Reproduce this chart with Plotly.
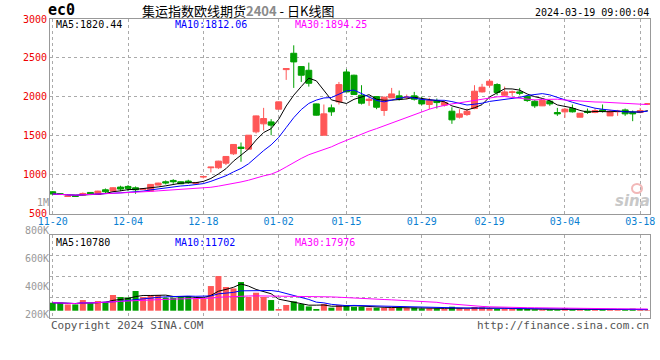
import plotly.graph_objects as go
import pandas as pd

# ---------------- data ----------------
dates = [
    "2023-11-20", "2023-11-21", "2023-11-22", "2023-11-23", "2023-11-24", "2023-11-27", "2023-11-28", "2023-11-29", "2023-11-30", "2023-12-01",
    "2023-12-04", "2023-12-05", "2023-12-06", "2023-12-07", "2023-12-08", "2023-12-11", "2023-12-12", "2023-12-13", "2023-12-14", "2023-12-15",
    "2023-12-18", "2023-12-19", "2023-12-20", "2023-12-21", "2023-12-22", "2023-12-25", "2023-12-26", "2023-12-27", "2023-12-28", "2023-12-29",
    "2024-01-02", "2024-01-03", "2024-01-04", "2024-01-05", "2024-01-08", "2024-01-09", "2024-01-10", "2024-01-11", "2024-01-12",
    "2024-01-15", "2024-01-16", "2024-01-17", "2024-01-18", "2024-01-19", "2024-01-22", "2024-01-23", "2024-01-24", "2024-01-25", "2024-01-26",
    "2024-01-29", "2024-01-30", "2024-01-31", "2024-02-01", "2024-02-02", "2024-02-05", "2024-02-06", "2024-02-07", "2024-02-08",
    "2024-02-19", "2024-02-20", "2024-02-21", "2024-02-22", "2024-02-23", "2024-02-26", "2024-02-27", "2024-02-28", "2024-02-29", "2024-03-01",
    "2024-03-04", "2024-03-05", "2024-03-06", "2024-03-07", "2024-03-08", "2024-03-11", "2024-03-12", "2024-03-13", "2024-03-14", "2024-03-15",
    "2024-03-18", "2024-03-19",
]

opens = [782, 756, 722, 728, 739, 773, 747, 807, 790, 842,
         850, 833, 814, 790, 867, 910, 927, 910, 919, 888,
         970, 1090, 1090, 1149, 1269, 1355, 1329, 1551, 1654, 1679,
         1842, 2350, 2560, 2389, 2342, 1910, 1508, 1859, 1936, 2320,
         2278, 2021, 1953, 2004, 1825, 1987, 2013, 1992, 2013, 1962,
         1902, 1953, 1893, 1816, 1739, 1773, 1850, 2064, 2150, 2158,
         2021, 2056, 2064, 2004, 1944, 1885, 1944, 1799, 1808, 1850,
         1739, 1816, 1799, 1833, 1756, 1808, 1833, 1799, 1799, 1905]
highs = [790, 760, 728, 732, 773, 777, 795, 824, 840, 859,
         867, 850, 822, 880, 897, 927, 944, 914, 936, 905,
         980, 1100, 1180, 1240, 1395, 1414, 1508, 1760, 1859, 1714,
         1940, 2363, 2662, 2389, 2440, 1915, 1902, 1902, 2192, 2355,
         2285, 2150, 2004, 2010, 2004, 2115, 2081, 2030, 2064, 2004,
         1987, 1979, 1953, 1867, 1842, 1850, 2150, 2167, 2226, 2175,
         2132, 2081, 2115, 2021, 1962, 1956, 1962, 1859, 1859, 1902,
         1792, 1850, 1850, 1902, 1833, 1833, 1850, 1825, 1859, 1915]
lows = [745, 748, 716, 716, 735, 743, 743, 765, 786, 790,
        790, 756, 812, 786, 863, 876, 884, 880, 884, 884,
        953, 1030, 1075, 1125, 1255, 1167, 1320, 1530, 1568, 1508,
        1842, 2218, 2115, 2192, 2132, 1760, 1505, 1756, 1902, 2060,
        2025, 1902, 1885, 1842, 1756, 1987, 1953, 1970, 1953, 1893,
        1842, 1850, 1876, 1654, 1722, 1756, 1842, 2056, 2124, 2021,
        2004, 2013, 2021, 1936, 1859, 1882, 1885, 1756, 1731, 1799,
        1736, 1782, 1790, 1799, 1756, 1756, 1756, 1688, 1790, 1900]
closes = [753, 750, 726, 722, 760, 747, 790, 782, 833, 816,
          825, 807, 818, 876, 893, 895, 910, 884, 901, 901,
          978, 1098, 1175, 1235, 1389, 1337, 1508, 1756, 1722, 1637,
          1936, 2363, 2449, 2278, 2175, 1765, 1782, 1808, 2158, 2064,
          2030, 1919, 1970, 1867, 1996, 2038, 1970, 1998, 1970, 1910,
          1953, 1927, 1927, 1705, 1782, 1816, 2073, 2124, 2201, 2056,
          2064, 2064, 2047, 1953, 1885, 1953, 1910, 1782, 1842, 1808,
          1790, 1799, 1825, 1816, 1816, 1816, 1782, 1782, 1825, 1912]
volumes = [84000, 84000, 66000, 66000, 112000, 77000, 102000, 87000, 165000, 144000,
           140000, 207000, 144000, 165000, 165000, 137000, 137000, 144000, 154000, 123000,
           123000, 259000, 364000, 249000, 234000, 301000, 144000, 189000, 144000, 112000,
           18000, 60000, 98000, 70000, 45000, 18000, 70000, 32000, 60000, 60000,
           42000, 42000, 32000, 32000, 32000, 32000, 32000, 32000, 32000, 24000,
           24000, 24000, 18000, 42000, 28000, 18000, 39000, 35000, 24000, 18000,
           18000, 18000, 18000, 18000, 14000, 11000, 11000, 8000, 28000, 9000,
           12000, 14000, 12000, 13000, 12000, 8000, 8500, 22000, 9000, 6400]

label_dates = ["2023-11-20", "2023-12-04", "2023-12-18", "2024-01-02", "2024-01-15",
               "2024-01-29", "2024-02-19", "2024-03-04", "2024-03-18"]
price_ticks = [500, 1000, 1500, 2000, 2500, 3000]
vol_ticks = [200000, 400000, 600000, 800000, 1000000]
vol_tick_text = ["200K", "400K", "600K", "800K", "1M"]

price_ma_text = ["MA5:1820.44", "MA10:1812.06", "MA30:1894.25"]
vol_ma_text = ["MA5:10780", "MA10:11702", "MA30:17976"]
ma_periods = [5, 10, 30]
ma_colors = ["#000000", "#0000ff", "#ff00ff"]

# ---------------- style / geometry ----------------
W, H = 660, 360
ML, MR, MT, MB = 50, 10, 19, 42
PW, PH = W - ML - MR, H - MT - MB
def fx(x): return (x - ML) / PW
def fy(y): return (H - MB - y) / PH

RED = "#ff5757"
GREEN = "#00a000"
GRID = "#aaaaaa"
FRAME = "#999999"
MONO = "DejaVu Sans Mono"

close_s = pd.Series(closes, dtype=float)
vol_s = pd.Series(volumes, dtype=float)
bar_colors = [RED if c >= o else GREEN for o, c in zip(opens, closes)]

fig = go.Figure()
fig.add_trace(go.Candlestick(
    x=dates, open=opens, high=highs, low=lows, close=closes,
    increasing=dict(line=dict(color=RED, width=1), fillcolor=RED),
    decreasing=dict(line=dict(color=GREEN, width=1), fillcolor=GREEN),
    xaxis="x", yaxis="y", showlegend=False, hoverinfo="skip"))
for p, col in zip(ma_periods, ma_colors):
    fig.add_trace(go.Scatter(x=dates, y=close_s.rolling(p, min_periods=1).mean(),
                             mode="lines", line=dict(color=col, width=1),
                             xaxis="x", yaxis="y", showlegend=False, hoverinfo="skip"))

fig.add_trace(go.Bar(x=dates, y=volumes, marker=dict(color=bar_colors, line=dict(width=0)),
                     xaxis="x2", yaxis="y2", showlegend=False, hoverinfo="skip"))
for p, col in zip(ma_periods, ma_colors):
    fig.add_trace(go.Scatter(x=dates, y=vol_s.rolling(p, min_periods=1).mean(),
                             mode="lines", line=dict(color=col, width=1),
                             xaxis="x2", yaxis="y2", showlegend=False, hoverinfo="skip"))
# carrier for the volume label axis
fig.add_trace(go.Scatter(x=[None], y=[None], xaxis="x3", yaxis="y3", showlegend=False))

xr = [-0.36, len(dates) - 0.7]
common_x = dict(type="category", range=xr, tickvals=label_dates, showgrid=True,
                gridcolor=GRID, griddash="dot", gridwidth=1, showline=True, mirror=True,
                linecolor=FRAME, linewidth=1, ticks="", zeroline=False, fixedrange=True)

main_bot = fy(213.7)
vol_top = fy(235)
vlo, vhi = -76600, 795000
vgrid = [vlo + k * (vhi - vlo) / 4 for k in (1, 2, 3)]

fig.update_layout(
    width=W, height=H, margin=dict(l=ML, r=MR, t=MT, b=MB, autoexpand=False),
    paper_bgcolor="white", plot_bgcolor="rgba(0,0,0,0)",
    boxgap=0.12, boxgroupgap=0.1, bargap=0.2,
    xaxis=dict(common_x, domain=[0, 1], anchor="y",
               ticktext=[d[5:] for d in label_dates], automargin=False,
               ticklabelstandoff=-2,
               tickfont=dict(family=MONO, size=10, color="#0a7fd2"),
               rangeslider=dict(visible=False)),
    yaxis=dict(domain=[main_bot, 1], range=[500, 3000], tickvals=price_ticks,
               tickfont=dict(family=MONO, size=10, color="#ee0000"), automargin=False,
               showgrid=True, gridcolor=GRID, griddash="dot", showline=True, mirror=True,
               linecolor=FRAME, zeroline=False, ticks="", fixedrange=True),
    xaxis2=dict(common_x, domain=[0, 1], anchor="y2", showticklabels=False),
    yaxis2=dict(domain=[0, vol_top], range=[vlo, vhi], tickvals=vgrid, showticklabels=False,
                showgrid=True, gridcolor=GRID, griddash="dot", showline=True, mirror=True,
                linecolor=FRAME, zeroline=False, ticks="", fixedrange=True),
    xaxis3=dict(domain=[0, 1], anchor="y3", visible=False, range=[0, 1]),
    yaxis3=dict(domain=[0, fy(195)], anchor="x3", range=[171400, 1050000],
                tickvals=vol_ticks, ticktext=vol_tick_text, automargin=False,
                tickfont=dict(family=MONO, size=10, color="#999999"),
                showgrid=False, showline=False, zeroline=False, ticks="", fixedrange=True),
    font=dict(family=MONO, size=10, color="#000"),
)

ann = []
def txt(x, y, s, color="#000", size=10, anchor="left", family=MONO):
    ann.append(dict(x=fx(x), y=fy(y), xref="paper", yref="paper", text=s, showarrow=False,
                    xanchor=anchor, yanchor="middle", borderpad=0,
                    font=dict(family=family, size=size, color=color)))

txt(47, 10, "<b>ec0</b>", size=15)
txt(238, 10, "集运指数欧线期货<span style='color:#8a8a8a'><b>2404</b></span> - 日K线图",
    size=13, anchor="center", family="Noto Sans CJK SC")
txt(650, 12, "2024-03-19 09:00:04", anchor="right")
for xpos, s, col in zip([55, 174, 294], price_ma_text, ma_colors):
    txt(xpos, 25, s, color=col)
for xpos, s, col in zip([55, 174, 294], vol_ma_text, ma_colors):
    txt(xpos, 243, s, color=col)
txt(50, 325, "Copyright 2024 SINA.COM", color="#555555", size=11)
txt(650, 325, "http://finance.sina.com.cn", color="#555555", size=11, anchor="right")
txt(632, 201, "<b><i>sina</i></b>", color="#c8c8c8", size=15, anchor="center", family="DejaVu Sans")
fig.update_layout(annotations=ann)
fig.add_shape(type="circle", xref="paper", yref="paper",
              x0=fx(632), x1=fx(642), y0=fy(193), y1=fy(184),
              line=dict(color="#f2b8b8", width=2), fillcolor="rgba(0,0,0,0)")

fig.write_html("out.html", config={"displayModeBar": False, "staticPlot": True},
               post_script="document.body.style.margin='0';")
